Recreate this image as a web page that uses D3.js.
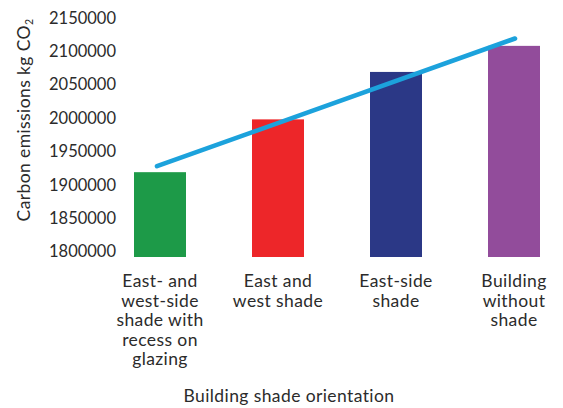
<!DOCTYPE html>
<html>
<head>
<meta charset="utf-8">
<script src="https://cdn.jsdelivr.net/npm/d3@7"></script>
<style>
  html, body { margin: 0; padding: 0; background: #fff; }
  svg { display: block; font-family: Lato, "Open Sans", sans-serif; }
</style>
</head>
<body>
<svg id="chart" width="563" height="408"></svg>
<script>
// Categories (multi-line labels) and annual carbon emissions per option
const categories = [
  ["East- and", "west-side", "shade with", "recess on", "glazing"],
  ["East and", "west shade"],
  ["East-side", "shade"],
  ["Building", "without", "shade"]
];
const emissions = [1919000, 1998000, 2069000, 2108000];
const barColors = ["#1d9a48", "#ed2629", "#2b3886", "#924c9b"];
// Linear trend across the options: value at first and last category
const trendValues = [1928000, 2119000];
const yTicks = [1800000, 1850000, 1900000, 1950000, 2000000, 2050000, 2100000, 2150000];

const svg = d3.select("#chart");
const textColor = "#2b2b2b";
const tickSize = 16.5;
const labelSize = 17.5;
const labelSpacing = 0.4;

const keys = categories.map((c, i) => i);
const x = d3.scalePoint().domain(keys).range([160, 514]);
const y = d3.scaleLinear().domain([1800000, 2150000]).range([251.7, 17.8]);
const barWidth = 52;
const barBase = y(1800000) + 5.3;

// Y tick labels (no axis line)
svg.append("g")
  .selectAll("text")
  .data(yTicks)
  .join("text")
  .attr("x", 116)
  .attr("y", d => y(d))
  .attr("dy", "0.35em")
  .attr("text-anchor", "end")
  .attr("font-size", tickSize)
  .attr("fill", textColor)
  .text(d => d3.format("d")(d));

// Bars
svg.append("g")
  .selectAll("rect")
  .data(emissions)
  .join("rect")
  .attr("x", (d, i) => x(i) - barWidth / 2)
  .attr("y", d => y(d))
  .attr("width", barWidth)
  .attr("height", d => barBase - y(d))
  .attr("fill", (d, i) => barColors[i]);

// Trend line
const line = d3.line()
  .x(d => d[0])
  .y(d => y(d[1]));
svg.append("path")
  .datum([[x(0) - 3, trendValues[0]], [x(keys.length - 1) + 1, trendValues[1]]])
  .attr("d", line)
  .attr("fill", "none")
  .attr("stroke", "#1ca2dc")
  .attr("stroke-width", 4.6)
  .attr("stroke-linecap", "round");

// Category labels
const catG = svg.append("g")
  .attr("font-size", labelSize)
  .attr("letter-spacing", labelSpacing)
  .attr("fill", textColor)
  .attr("text-anchor", "middle");
categories.forEach((lines, i) => {
  const t = catG.append("text").attr("y", 287);
  lines.forEach((ln, j) => {
    t.append("tspan")
      .attr("x", x(i))
      .attr("dy", j === 0 ? 0 : 19.5)
      .text(ln);
  });
});

// Axis titles
svg.append("text")
  .attr("x", 289)
  .attr("y", 402)
  .attr("text-anchor", "middle")
  .attr("font-size", labelSize)
  .attr("letter-spacing", labelSpacing)
  .attr("fill", textColor)
  .text("Building shade orientation");

const yTitle = svg.append("text")
  .attr("transform", "translate(30,120) rotate(-90)")
  .attr("text-anchor", "middle")
  .attr("font-size", labelSize)
  .attr("letter-spacing", labelSpacing)
  .attr("fill", textColor);
yTitle.append("tspan").text("Carbon emissions kg CO");
yTitle.append("tspan").attr("font-size", 10.5).attr("dy", 3).text("2");
</script>
</body>
</html>
